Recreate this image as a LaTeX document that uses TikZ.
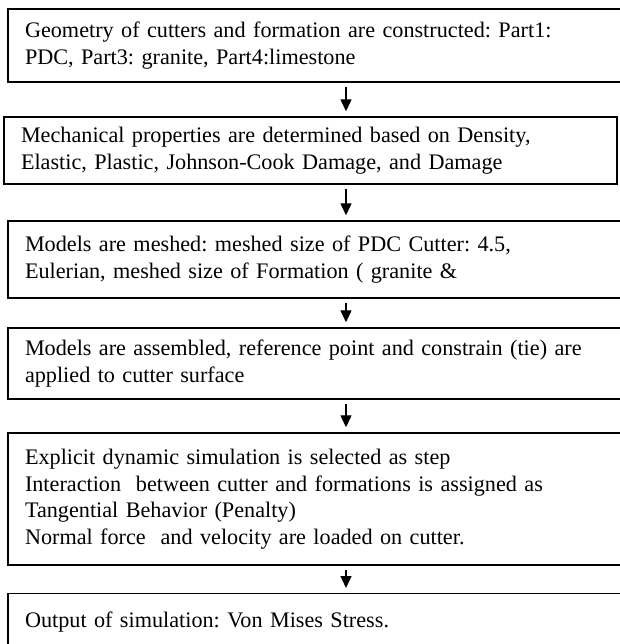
\documentclass[tikz,border=0pt]{standalone}
\usepackage{fontspec}
\setmainfont{Liberation Serif}
\usetikzlibrary{arrows.meta}
\frenchspacing
\begin{document}
\begin{tikzpicture}[x=1pt, y=-1pt,
    stepbox/.style={draw, line width=1.4pt, inner xsep=17pt, inner ysep=0pt, align=left,
      font=\fontsize{22.2pt}{26.5pt}\selectfont},
    flow/.style={line width=1.3pt, -{Triangle[width=11pt,length=12pt]}, shorten <=4pt, shorten >=5pt}]
  \useasboundingbox (0,0) rectangle (619,644);
  \node[stepbox, text width=583pt, minimum height=73pt] (box1) at (316.5,45.5)
    {Geometry of cutters and formation are constructed: Part1:\\PDC, Part3: granite, Part4:limestone};
  \node[stepbox, text width=579pt, minimum height=67pt] (box2) at (310.5,150.5)
    {Mechanical properties are determined based on Density,\\Elastic, Plastic, Johnson-Cook Damage, and Damage};
  \node[stepbox, text width=583pt, minimum height=77pt] (box3) at (316.5,259.5)
    {Models are meshed: meshed size of PDC Cutter: 4.5,\\Eulerian, meshed size of Formation ( granite \&\\[8pt]};
  \node[stepbox, text width=583pt, minimum height=71pt] (box4) at (316.5,363.5)
    {Models are assembled, reference point and constrain (tie) are\\applied to cutter surface};
  \node[stepbox, text width=583pt, minimum height=132pt] (box5) at (316.5,499)
    {Explicit dynamic simulation is selected as step\\Interaction\ \ between cutter and formations is assigned as\\Tangential Behavior (Penalty)\\Normal force\ \ and velocity are loaded on cutter.};
  \node[stepbox, text width=583pt, minimum height=56pt, anchor=north] (box6) at (316.5,593)
    {Output of simulation: Von Mises Stress.};
  \coordinate (ax) at (346,0);
  \draw[flow] (box1.south -| ax) -- (box2.north -| ax);
  \draw[flow] (box2.south -| ax) -- (box3.north -| ax);
  \draw[flow] (box3.south -| ax) -- (box4.north -| ax);
  \draw[flow] (box4.south -| ax) -- (box5.north -| ax);
  \draw[flow] (box5.south -| ax) -- (box6.north -| ax);
\end{tikzpicture}
\end{document}
